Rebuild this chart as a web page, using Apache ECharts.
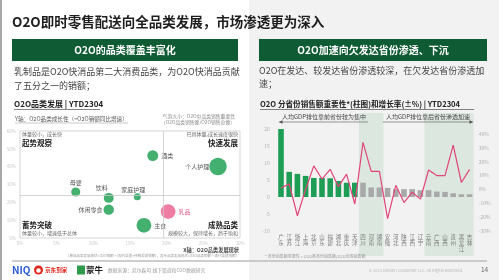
<!DOCTYPE html>
<html><head><meta charset="utf-8">
<script src="https://cdn.jsdelivr.net/npm/echarts/dist/echarts.min.js"></script>
<style>html,body{margin:0;padding:0;background:#fff}#c{width:499px;height:280px}</style>
</head><body><div id="c"></div>
<script>
const FONT = '"Noto Sans CJK SC","Noto Sans",sans-serif';

// ---- left: bubble chart data ----
const bubbleNames = ['酒类', '个人护理', '母婴', '饮料', '家庭护理', '休闲零食', '乳品', '主食'];
const bubbleX = [18.1, 27.0, 7.6, 12.1, 16.0, 12.1, 20.2, 16.9];      // O2O品类发展现状 (%)
const bubbleY = [46.2, 40.1, 25.8, 22.5, 23.1, 15.9, 14.8, 7.1];      // O2O品类成长性 (%)
const bubbleShare = [11, 28, 7.5, 9, 4.5, 10, 20, 20];                // 销售重要性 (%)
const dividerX = 19.6;
const dividerY = 24;

// ---- right: province bar + line data ----
const provinces = ['广东','江苏','浙江','上海','北京','山东','福建','湖北','重庆','天津',
                   '四川','河南','湖南','安徽','河北','陕西','江西','辽宁','云南','广西','山西','贵州','黑龙江','吉林'];
const shareValues = [20, 7.4, 6.8, 6.2, 5.6, 5.6, 5.5, 4.7, 4.2, 4.2,
                     4.2, 2.8, 2.8, 2.7, 2.3, 2.3, 2.3, 2.0, 2.0, 1.6, 1.5, 1.1, 0.8, 0.8];
const growthValues = [1, 4, -19, 0, 17, 7.5, 14.5, 2, 11, -10.5,
                      34, 13, 13, -21, 3, -9.5, -2, -7, 14, 10, 10, 32, 5, 14.5];
const developedCount = 10;
const bandRanges = [[10, 12], [18, 23]];

const GREEN_BUBBLE = '#43b06f', PINK = '#ef7ca2', BAR_GREEN = '#1e9e55', BAR_GRAY = '#a9a9a9', LINE_PINK = '#e0457b';

function T(text, x, y, o) {
  o = o || {};
  const st = Object.assign({
    text: text, fill: '#333', fontSize: 9, fontFamily: FONT, fontWeight: 'normal',
    textAlign: 'left', textVerticalAlign: 'middle'
  }, o);
  st.align = st.textAlign; st.verticalAlign = st.textVerticalAlign;
  return { type: 'text', x: x, y: y, z: 20, silent: true, style: st };
}
function R(x, y, w, h, fill, z) {
  return { type: 'rect', z: z === undefined ? 10 : z, silent: true, shape: { x: x, y: y, width: w, height: h }, style: { fill: fill } };
}
function L(x1, y1, x2, y2, stroke, w) {
  return { type: 'line', z: 20, silent: true, shape: { x1: x1, y1: y1, x2: x2, y2: y2 }, style: { stroke: stroke, lineWidth: w } };
}
function P(points, fill) {
  return { type: 'polygon', z: 20, silent: true, shape: { points: points }, style: { fill: fill } };
}

const labelPlace = {
  '酒类': { position: 'right', distance: 3 },
  '个人护理': { position: 'left', distance: 0 },
  '母婴': { position: 'top', distance: 2 },
  '饮料': { position: 'top', distance: 2, offset: [-7, 0] },
  '家庭护理': { position: 'top', distance: 1, offset: [-4, 0] },
  '休闲零食': { position: 'left', distance: 1 },
  '乳品': { position: 'right', distance: 3, color: '#e8608a' },
  '主食': { position: 'right', distance: 3 }
};

const graphics = [
  R(249, 0, 250, 280, '#f2f2f2', -5),
  R(0, 0, 2, 280, '#a8a8a8', -4),
  T('O2O即时零售配送向全品类发展，市场渗透更为深入', 12, 22, { fontSize: 13.5, fontWeight: 'bold', fill: '#1e1e1e' }),
  R(12, 39, 226, 22, '#0f5b34'),
  R(259, 39, 228, 22, '#0f5b34'),
  T('O2O的品类覆盖丰富化', 125, 50.5, { fontSize: 10, fontWeight: 'bold', fill: '#fff', textAlign: 'center' }),
  T('O2O加速向欠发达省份渗透、下沉', 373, 50.5, { fontSize: 10, fontWeight: 'bold', fill: '#fff', textAlign: 'center' }),
  T('乳制品是O2O快消品第二大消费品类，为O2O快消品贡献', 14, 72, { fontSize: 9, fill: '#444' }),
  T('了五分之一的销额；', 14, 86, { fontSize: 9, fill: '#444' }),
  T('O2O在发达、较发达省份渗透较深，在欠发达省份渗透加', 259, 71, { fontSize: 9, fill: '#444' }),
  T('速；', 259, 84, { fontSize: 9, fill: '#444' }),
  T('O2O品类发展 | YTD2304', 14, 104, { fontSize: 8, fontWeight: 'bold', fill: '#222' }),
  L(14, 109.5, 100, 109.5, '#333', 0.6),
  T('O2O 分省份销售额重要性*(柱图)和增长率(±%) | YTD2304', 260, 104, { fontSize: 7.6, fontWeight: 'bold', fill: '#222' }),
  L(260, 109.5, 474, 109.5, '#333', 0.6),
  // left chart annotations
  T('Y轴：O2O品类成长性（=O2O销额同比增速）', 15, 119, { fontSize: 5.6, fill: '#555' }),
  L(15, 123, 128, 123, '#777', 0.4),
  T('气泡大小：O2O中品类销售重要性', 235, 116, { fontSize: 4.8, fill: '#888', textAlign: 'right' }),
  T('（O2O品类销售额/O2O销售总额）', 235, 122.5, { fontSize: 4.8, fill: '#888', textAlign: 'right' }),
  L(196, 119, 235, 119, '#aaa', 0.3),
  T('体量较小，成长快', 22, 134.5, { fontSize: 5, fill: '#666' }),
  T('起势观察', 22, 143.5, { fontSize: 7.5, fontWeight: 'bold', fill: '#222' }),
  T('已具体量,成长速度很快', 238, 134.5, { fontSize: 5, fill: '#666', textAlign: 'right' }),
  T('快速发展', 238, 143.5, { fontSize: 7.5, fontWeight: 'bold', fill: '#222', textAlign: 'right' }),
  T('蓄势突破', 22, 225, { fontSize: 7.5, fontWeight: 'bold', fill: '#222' }),
  T('体量较小，增速低于总体', 22, 233.5, { fontSize: 5, fill: '#666' }),
  T('成熟品类', 238, 225, { fontSize: 7.5, fontWeight: 'bold', fill: '#222', textAlign: 'right' }),
  T('规模较大，保持增长，趋于饱和', 238, 233.5, { fontSize: 5, fill: '#666', textAlign: 'right' }),
  T('X轴：O2O品类发展现状', 239, 250, { fontSize: 5.2, fontWeight: 'bold', fill: '#444', textAlign: 'right' }),
  T('（单品品类发展现状=O2O销额÷(现代渠道+传统渠道销额)，其余品类发展现状=O2O品类销额÷现代渠道销额）', 239, 255.5, { fontSize: 3.5, fill: '#999', textAlign: 'right' }),
  // right chart annotations
  T('人均GDP排位靠前省份较为集中', 324, 116.5, { fontSize: 6, fill: '#444', textAlign: 'center' }),
  L(281, 122, 368, 122, '#555', 0.6),
  P([[278.5, 122], [282.5, 120.2], [282.5, 123.8]], '#555'),
  T('人均GDP排位靠后省份渗透加速', 428, 116.5, { fontSize: 6, fill: '#444', textAlign: 'center' }),
  L(383, 122, 470, 122, '#555', 0.6),
  P([[473.5, 122], [469.5, 120.2], [469.5, 123.8]], '#555'),
  T('* 省份销售额重要性 = O2O各省份销售额/O2O全国销售额', 265, 256.5, { fontSize: 4, fill: '#999' }),
  // bottom
  L(12, 261, 487, 261, '#bdbdbd', 1.5),
  T('NIQ', 12, 270, { fontSize: 10, fontWeight: 'bold', fill: '#2a5bd6' }),
  { type: 'circle', z: 20, silent: true, shape: { cx: 38.5, cy: 270, r: 4.5 }, style: { fill: '#e2261c' } },
  { type: 'circle', z: 21, silent: true, shape: { cx: 38.5, cy: 270.5, r: 2.3 }, style: { fill: '#fff' } },
  T('京东到家', 45, 270, { fontSize: 5.6, fontWeight: 'bold', fill: '#e2261c' }),
  R(77, 265.5, 8, 9, '#2e9b4a', 20),
  T('蒙牛', 86, 270, { fontSize: 8.5, fontWeight: 'bold', fill: '#1d1d1d' }),
  T('数据来源：尼尔森IQ 线下渠道和O2O数据研究', 108, 270, { fontSize: 4.8, fill: '#9a9a9a' }),
  T('© 2023 Nielsen Consumer LLC. All Rights Reserved.', 463, 270, { fontSize: 4, fill: '#bbb', textAlign: 'right' }),
  T('14', 481, 270, { fontSize: 6.5, fill: '#666' })
];

const axisHide = { axisLine: { show: false }, axisTick: { show: false }, splitLine: { show: false } };

const option = {
  animation: false,
  textStyle: { fontFamily: FONT },
  grid: [
    { left: 20, top: 131, width: 220, height: 107, show: true, borderColor: '#cacaca', borderWidth: 0.8, backgroundColor: 'transparent' },
    { left: 276.9, top: 129, width: 196.8, height: 102 },
    { left: 276.9, top: 134, width: 196.8, height: 97 },
    { left: 276.9, top: 113, width: 196.8, height: 143 }
  ],
  xAxis: [
    Object.assign({ gridIndex: 0, type: 'value', min: 0, max: 30, interval: 5,
      axisLabel: { formatter: '{value}%', fontSize: 4.5, color: '#c8c8c8', margin: 3 } }, axisHide),
    Object.assign({ gridIndex: 1, type: 'category', data: provinces, zlevel: 1, z: 10,
      axisLabel: { interval: 0, formatter: function (v) { return v.split('').join('\n'); }, fontSize: 5.5, lineHeight: 6, color: '#7a7a7a', margin: 3 } }, axisHide),
    { gridIndex: 2, type: 'category', data: provinces, show: false },
    { gridIndex: 3, type: 'value', min: -0.5, max: 23.5, show: false }
  ],
  yAxis: [
    Object.assign({ gridIndex: 0, type: 'value', min: 0, max: 60, interval: 10,
      axisLabel: { formatter: '{value}%', fontSize: 4.5, color: '#c8c8c8', margin: 4 } }, axisHide),
    Object.assign({ gridIndex: 1, type: 'value', min: -10, max: 20, interval: 5, zlevel: 1, z: 10,
      axisLabel: { fontSize: 5, color: '#b0b0b0', margin: 7 } }, axisHide),
    Object.assign({ gridIndex: 2, type: 'value', position: 'right', min: -30, max: 40, interval: 10, zlevel: 1, z: 10,
      axisLabel: { formatter: '{value}%', fontSize: 5, color: '#b0b0b0', margin: 5 } }, axisHide),
    { gridIndex: 3, type: 'value', min: 0, max: 1, show: false }
  ],
  series: [
    {
      type: 'custom', xAxisIndex: 3, yAxisIndex: 3, z: 0, zlevel: 0, silent: true,
      data: bandRanges,
      renderItem: function (params, api) {
        const p0 = api.coord([api.value(0) - 0.5, 1]);
        const p1 = api.coord([api.value(1) + 0.5, 0]);
        return { type: 'rect', shape: { x: p0[0], y: p0[1], width: p1[0] - p0[0], height: p1[1] - p0[1] }, style: { fill: 'rgba(190,218,198,0.42)' } };
      }
    },
    {
      type: 'scatter', xAxisIndex: 0, yAxisIndex: 0, z: 3,
      symbolSize: function (v) { return 3.3 * Math.sqrt(v[2]); },
      data: bubbleNames.map(function (n, i) {
        const lp = labelPlace[n];
        return {
          name: n, value: [bubbleX[i], bubbleY[i], bubbleShare[i]],
          itemStyle: { color: n === '乳品' ? PINK : GREEN_BUBBLE, opacity: 1 },
          label: Object.assign({ show: true, formatter: '{b}', fontSize: 6, color: '#555', fontFamily: FONT }, lp)
        };
      }),
      markLine: {
        silent: true, symbol: 'none', label: { show: false },
        lineStyle: { color: '#cacaca', width: 0.8, type: 'solid' },
        data: [{ xAxis: dividerX }, { yAxis: dividerY }]
      }
    },
    {
      type: 'bar', xAxisIndex: 1, yAxisIndex: 1, z: 5, zlevel: 1, barWidth: 5.6,
      data: shareValues,
      itemStyle: { color: function (p) { return p.dataIndex < developedCount ? BAR_GREEN : BAR_GRAY; } }
    },
    {
      type: 'line', xAxisIndex: 2, yAxisIndex: 2, z: 6, zlevel: 1,
      data: growthValues, symbol: 'none', lineStyle: { color: LINE_PINK, width: 1.2 }
    }
  ],
  graphic: { elements: graphics }
};

const chart = echarts.init(document.getElementById('c'), null, { renderer: 'canvas' });
chart.setOption(option);
</script>
</body></html>
